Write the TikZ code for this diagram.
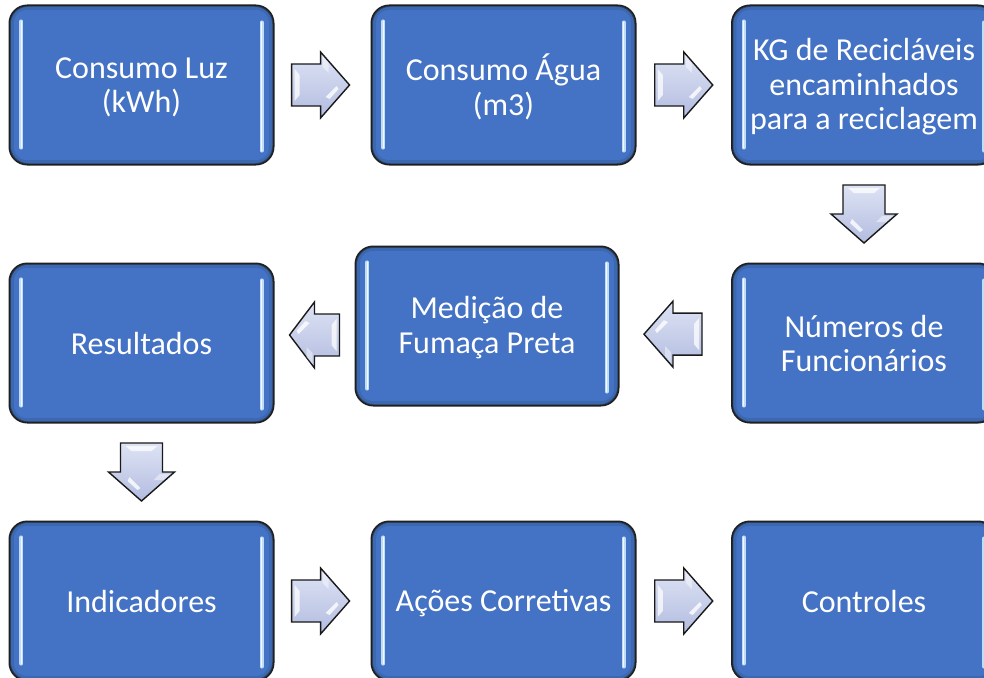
\documentclass[tikz,border=0pt]{standalone}
\usepackage{fontspec}
\setmainfont{Carlito}
\usetikzlibrary{calc}
\definecolor{boxblue}{HTML}{4472C4}
\definecolor{boxedge}{HTML}{36609F}
\definecolor{hlblue}{HTML}{BFDDF7}
\definecolor{arrtop}{HTML}{DEE3F4}
\definecolor{arrbot}{HTML}{B2BCE0}
\tikzset{
  stepbox/.style={rectangle, rounded corners=18pt, draw=black!88, line width=1.5pt,
    fill=boxblue, minimum width=263pt, minimum height=158pt, inner sep=0pt},
  boxtext/.style={text=white, align=center, font=\fontsize{32}{34.5}\selectfont, inner sep=0pt},
  bevel/.style={draw=boxedge, line width=4pt, opacity=.55, rounded corners=15pt},
  hlline/.style={hlblue, line width=3.6pt, line cap=round},
  hlcore/.style={white, line width=1.2pt, line cap=round, opacity=.8},
  pics/barrow/.style={code={
    \pgfmathsetmacro{\hl}{#1/2}
    \path[draw=black!90, line width=1.4pt, top color=arrtop, bottom color=arrbot]
      (-\hl,-21) -- (0,-21) -- (0,-33) -- (\hl,0) -- (0,33) -- (0,21) -- (-\hl,21) -- cycle;
    \fill[white, opacity=.75] (-\hl+3,-16) -- (-\hl+8,-10) -- (-\hl+8,10) -- (-\hl+3,16) -- cycle;
    \fill[white, opacity=.8] (5,12) -- (16,1) -- (18,4) -- (9,14) -- cycle;
    \fill[white, opacity=.45] (2,-29) -- (8,-22) -- (8,-12) -- (2,-18) -- cycle;
  }}
}
\begin{document}
\begin{tikzpicture}[x=1pt,y=-1pt]
\useasboundingbox (0,0) rectangle (984,677);
\clip (0,0) rectangle (984,677);
\fill[white] (0,0) rectangle (984,677);

\node[stepbox] (luz) at (141.5,85) {};
\node[stepbox] (agua) at (503.5,85) {};
\node[stepbox] (kg) at (864,85) {};
\node[stepbox] (num) at (864,343) {};
\node[stepbox, minimum width=262pt] (med) at (487,326) {};
\node[stepbox] (res) at (141.5,343) {};
\node[stepbox] (ind) at (141.5,601) {};
\node[stepbox] (acoes) at (503.5,601) {};
\node[stepbox] (ctrl) at (864,601) {};

\foreach \b in {luz,agua,kg,num,med,res,ind,acoes,ctrl}{
  \draw[bevel] ($(\b.north west)+(2.6,2.6)$) rectangle ($(\b.south east)+(-2.6,-2.6)$);
  \draw[black!88, line width=1.5pt, rounded corners=18pt] (\b.north west) rectangle (\b.south east);
  \draw[hlline] ($(\b.north west)+(12,16)$) -- ($(\b.south west)+(12,-17)$);
  \draw[hlcore] ($(\b.north west)+(12,16)$) -- ($(\b.south west)+(12,-17)$);
  \draw[hlline] ($(\b.north east)+(-12,17)$) -- ($(\b.south east)+(-12,-14)$);
  \draw[hlcore] ($(\b.north east)+(-12,17)$) -- ($(\b.south east)+(-12,-14)$);
}

\node[boxtext] (tluz) at ($(luz.center)+(0,2.5)$) {Consumo Luz\\(kWh)};
\node[boxtext] (tagua) at ($(agua.center)+(0,2)$) {Consumo Água\\(m3)};
\node[boxtext] (tkg) at ($(kg.center)+(0,2)$) {KG de Recicláveis\\encaminhados\\para a reciclagem};
\node[boxtext] (tnum) at ($(num.center)+(0,0.5)$) {Números de\\Funcionários};
\node[boxtext] (tmed) at ($(med.center)+(0,1.5)$) {Medição de\\Fumaça Preta};
\node[boxtext] (tres) at ($(res.center)+(0,1)$) {Resultados};
\node[boxtext] (tind) at ($(ind.center)+(0,0)$) {Indicadores};
\node[boxtext] (tacoes) at ($(acoes.center)+(0,2)$) {Ações Corretivas};
\node[boxtext] (tctrl) at ($(ctrl.center)+(0,0)$) {Controles};

\pic at ($(luz.east)!0.48!(agua.west)$) {barrow=58};
\pic at ($(agua.east)!0.5!(kg.west)$) {barrow=58};
\pic[rotate=-90] at ($(kg.south)!0.5!(num.north)$) {barrow=58};
\pic[rotate=180] at ($(num.west)!0.52!(med.east)$) {barrow=58};
\pic[rotate=180] at ($(med.west|-res.east)!0.5!(res.east)+(0,-8)$) {barrow=50};
\pic[rotate=-90] at ($(res.south)!0.5!(ind.north)$) {barrow=58};
\pic at ($(ind.east)!0.48!(acoes.west)$) {barrow=58};
\pic at ($(acoes.east)!0.5!(ctrl.west)$) {barrow=58};
\end{tikzpicture}
\end{document}
